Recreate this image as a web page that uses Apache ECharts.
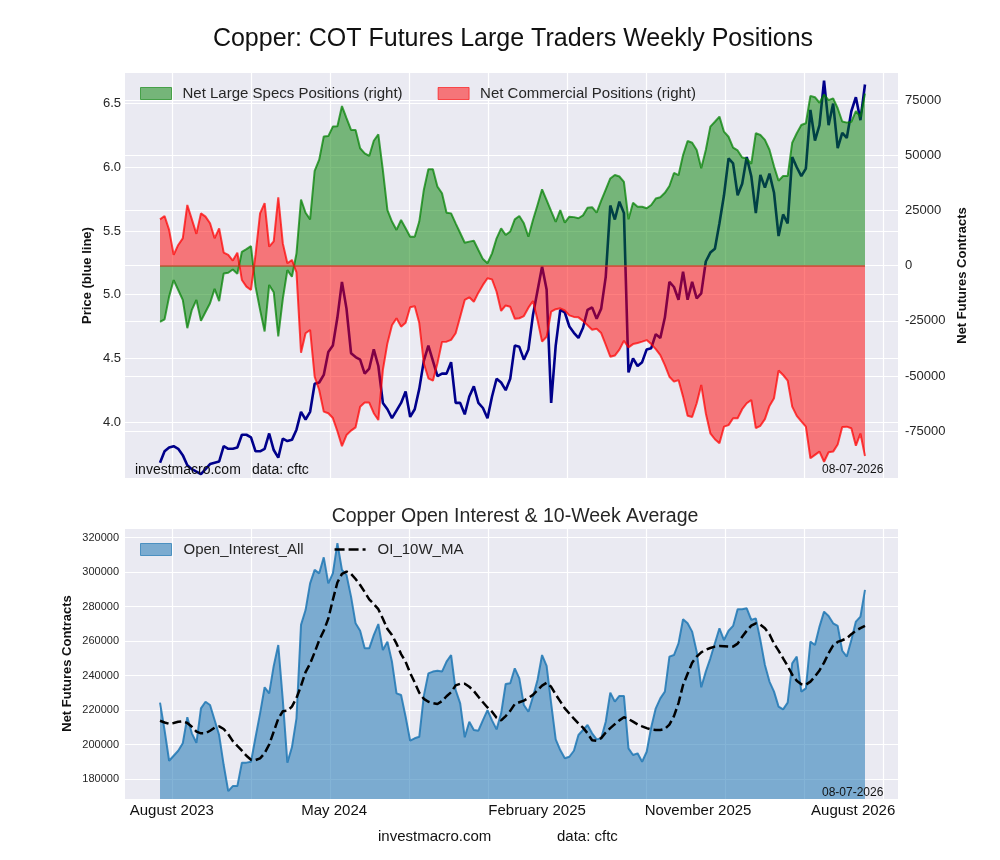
<html>

<head>
    <meta charset="utf-8">
    <script src="https://cdn.jsdelivr.net/npm/echarts@6/dist/echarts.min.js"></script>
    <style>
        html, body { margin: 0; padding: 0; background: #fff; }
        #main { width: 1000px; height: 860px; }
    </style>
</head>

<body>
    <div id="main"></div>

    <script>
        // weekly values (week 0 = first report)
        var price = [3.68, 3.77, 3.80, 3.81, 3.79, 3.74, 3.66, 3.63, 3.61, 3.59,
            3.63, 3.67, 3.68, 3.69, 3.81, 3.79, 3.79, 3.80, 3.90, 3.90,
            3.88, 3.77, 3.77, 3.79, 3.91, 3.78, 3.72, 3.87, 3.85, 3.86,
            3.94, 4.08, 4.02, 4.08, 4.30, 4.31, 4.37, 4.55, 4.60, 4.82,
            5.10, 4.89, 4.54, 4.51, 4.49, 4.38, 4.42, 4.57, 4.44, 4.15,
            4.10, 4.03, 4.09, 4.15, 4.24, 4.04, 4.10, 4.26, 4.48, 4.60,
            4.48, 4.36, 4.38, 4.38, 4.47, 4.15, 4.15, 4.06, 4.20, 4.28,
            4.15, 4.11, 4.03, 4.20, 4.34, 4.31, 4.25, 4.34, 4.60, 4.59,
            4.49, 4.57, 4.84, 5.03, 5.22, 5.04, 4.15, 4.60, 4.88, 4.86,
            4.75, 4.70, 4.66, 4.74, 4.88, 4.90, 4.81, 4.89, 5.14, 5.70,
            5.59, 5.73, 5.64, 4.39, 4.50, 4.44, 4.47, 4.57, 4.58, 4.69,
            4.66, 4.82, 5.10, 5.06, 4.96, 5.18, 4.96, 5.10, 4.97, 5.01,
            5.26, 5.33, 5.36, 5.56, 5.78, 6.07, 6.03, 5.78, 5.87, 6.08,
            5.93, 5.64, 5.94, 5.84, 5.95, 5.80, 5.46, 5.63, 5.56, 6.08,
            6.00, 5.93, 5.99, 6.45, 6.21, 6.33, 6.68, 6.33, 6.50, 6.15,
            6.27, 6.23, 6.44, 6.55, 6.37, 6.65];

        var specs = [-25400, -24300, -14000, -6500, -11000, -15500, -28300, -20000, -15500, -25000,
            -21000, -17000, -10500, -16000, -3500, -3200, -1700, -3700, 6300, 7500,
            8900, -9500, -20000, -29800, -8700, -12000, -32000, -15000, -2000, -5000,
            5500, 30000, 24000, 21000, 43000, 48000, 58500, 58700, 63000, 63200,
            72300, 66800, 61500, 61500, 53200, 50900, 49700, 56600, 59500, 43300,
            25200, 20000, 16200, 20700, 17000, 13100, 13100, 20000, 34300, 43700,
            43700, 35800, 32800, 24000, 23700, 19200, 14800, 10400, 10900, 11300,
            7100, 3000, 1100, 5600, 12400, 16900, 13900, 15500, 21000, 22500,
            19200, 13100, 20700, 27500, 34600, 29700, 24700, 19800, 25200, 19500,
            22200, 22000, 21500, 22800, 26200, 26500, 24000, 29500, 34500, 39500,
            41100, 40400, 38000, 21000, 28500, 26700, 26700, 26000, 27500, 30400,
            31000, 33000, 36100, 42000, 41000, 50100, 56500, 55700, 52400, 44100,
            52400, 63000, 65200, 67500, 60700, 58400, 53500, 52200, 49000, 48600,
            46100, 60000, 59200, 57000, 52500, 45000, 38500, 40600, 40600, 55700,
            60000, 63700, 64500, 76900, 76300, 73800, 77500, 75000, 75800, 71300,
            65300, 64800, 65200, 70000, 67500, 78000];

        var comm = [21000, 22500, 16200, 4900, 9400, 12400, 27500, 21000, 14400, 23700,
            22200, 19200, 12400, 16900, 5900, 4900, 2300, 5900, -6500, -9500,
            -11000, 5000, 23700, 28300, 8600, 11000, 31000, 10100, 1100, 2600,
            -3000, -39400, -30600, -29100, -50300, -56300, -66100, -66800, -69000, -75000,
            -81700, -76700, -74700, -73200, -63900, -62000, -62000, -66800, -69900, -47200,
            -35100, -27000, -23800, -27600, -25800, -18800, -18300, -26000, -44200, -51000,
            -52100, -44200, -34500, -34400, -33600, -30600, -23100, -15500, -14300, -16300,
            -12200, -8700, -5700, -6200, -11800, -20500, -18000, -18600, -24000, -23800,
            -22800, -19000, -16000, -24600, -34400, -32200, -20800, -19700, -19300, -20300,
            -22500, -23200, -23400, -25000, -27000, -29000, -28600, -30500, -35800, -41200,
            -40700, -38000, -34000, -37000, -35500, -35000, -34400, -33700, -35500, -37800,
            -40500, -45000, -50300, -52500, -51800, -59300, -68000, -68500, -62300, -54000,
            -66800, -75900, -78600, -80400, -72900, -72200, -69100, -69100, -65000, -62300,
            -60800, -73600, -72500, -69500, -63500, -60000, -47500, -49500, -52000, -63800,
            -68000, -70500, -72900, -87200, -85700, -84200, -88800, -84500, -84200, -81000,
            -73000, -72900, -73600, -81500, -76000, -86200];

        var openInterest = [224300, 208400, 190600, 193500, 196400, 200700, 215800, 206500, 201000, 221000,
            224800, 222900, 214200, 205500, 188100, 173000, 175900, 175900, 189500, 189500,
            190000, 204200, 218100, 233200, 229700, 245600, 257700, 225800, 189500, 198400,
            215200, 269400, 278000, 293500, 301300, 299300, 308600, 293500, 299300, 316800,
            301300, 298400, 285800, 270300, 266000, 255800, 255800, 263500, 269900, 254800,
            259700, 248000, 229700, 228700, 216100, 202200, 203600, 204500, 228200, 241300,
            242300, 242800, 242300, 248100, 251900, 231600, 223900, 204200, 213200, 208400,
            208000, 214200, 220000, 214000, 208800, 218100, 235100, 235500, 244200, 238400,
            222900, 219000, 227700, 237400, 251900, 245600, 223900, 203000, 196800, 192000,
            192900, 196400, 205500, 208400, 211300, 206500, 203000, 203600, 213200, 230100,
            224900, 228200, 228200, 197800, 193900, 194900, 190000, 195800, 210000, 221000,
            226800, 230700, 251000, 251900, 258700, 272700, 270300, 265500, 253900, 233200,
            242300, 250000, 258700, 267400, 260600, 266000, 268800, 278500, 278500, 279000,
            272300, 273200, 260600, 246100, 236500, 230700, 222000, 220400, 224300, 247100,
            251000, 230700, 232600, 259700, 257700, 268400, 277100, 274600, 270300, 268800,
            254400, 251000, 260600, 271300, 274200, 289700];

        var oiAvg10w = [213800, 212800, 212000, 212500, 213200, 213500, 212500, 210300, 207500, 206500,
            206500, 208000, 209800, 210500, 209000, 206000, 202000, 199200, 196500, 193500,
            191200, 191000, 192000, 195000, 200000, 207500, 215000, 219300, 219600, 222000,
            227000, 234000, 242000, 247000, 253500, 260500, 266000, 273000, 284000, 294000,
            299000, 300300, 299000, 296000, 292500, 288500, 284200, 281500, 278500, 273000,
            267000, 263500, 258500, 252500, 248000, 241500, 236000, 230000, 226500, 224800,
            224000, 223500, 225200, 228000, 230300, 234300, 235200, 235300, 233500, 231000,
            227700, 224500, 221500, 219000, 215500, 214000, 216500, 219500, 223500, 224500,
            225500, 227000, 228800, 231500, 234200, 235800, 233500, 229000, 225000, 221000,
            218000, 215000, 212200, 209800, 206500, 202500, 202200, 203700, 207000, 209500,
            211800, 214000, 215800, 214800, 213300, 211700, 210500, 209500, 208700, 208400,
            208400, 209000, 211500, 216500, 224000, 234500, 241000, 247500, 251000, 253500,
            255000, 256000, 256800, 257100, 257000, 256800, 256800, 258500, 262500, 266000,
            269000, 270300, 269500, 267400, 264000, 258500, 254500, 250000, 245500, 240500,
            237000, 235000, 234700, 236500, 239500, 243000, 247500, 253000, 257500, 259500,
            260500, 261600, 264000, 266000, 267500, 268800];

        var tickLabels = ['August 2023', 'May 2024', 'February 2025', 'November 2025', 'August 2026'];
        var tickWeeks = [2.6, 38.3, 82.9, 118.3, 152.4];
        var lastDate = '08-07-2026';

        var FONT = '"Liberation Sans", Arial, sans-serif';
        var BG = '#eaeaf2';
        var TXT = '#262626';
        // three black dashes, used as the legend mark of the moving average
        var DASH_ICON = 'path://M0,0L0.01,0L0,0.01Z M0,12L0.01,12L0,11.99Z ' +
            'M0,4.8L10,4.8L10,7.2L0,7.2Z M14,4.8L24,4.8L24,7.2L14,7.2Z M28,4.8L31,4.8L31,7.2L28,7.2Z';

        function weekly(arr) {
            return arr.map(function (v, i) { return [i, v]; });
        }
        function plain(v) { return String(v); }

        // week axis, a little wider than the data on both sides
        var weekMin = -7.7, weekMax = 162.26;
        function weekAxis(grid) {
            return { type: 'value', gridIndex: grid, min: weekMin, max: weekMax, show: false };
        }
        // vertical white lines of the darkgrid
        function vlineAxis(grid) {
            return {
                type: 'value', gridIndex: grid, min: 0, max: 9, interval: 1, z: 1,
                axisLine: { show: false }, axisTick: { show: false }, axisLabel: { show: false },
                splitLine: { show: true, lineStyle: { color: '#fff', width: 1.2 } }
            };
        }

        var chart = echarts.init(document.getElementById('main'));

        var option = {
            backgroundColor: '#fff',
            animation: false,
            textStyle: { fontFamily: FONT },
            title: [{
                text: 'Copper: COT Futures Large Traders Weekly Positions',
                left: 508, top: 22, textAlign: 'center',
                textStyle: { fontSize: 25, fontWeight: 'normal', color: '#111', fontFamily: FONT }
            }, {
                text: 'Copper Open Interest & 10-Week Average',
                left: 510, top: 502, textAlign: 'center',
                textStyle: { fontSize: 19.5, fontWeight: 'normal', color: TXT, fontFamily: FONT }
            }],
            legend: [{
                left: 135, top: 81, itemWidth: 31, itemHeight: 12, itemGap: 35,
                selectedMode: false,
                textStyle: { fontSize: 15, color: TXT, fontFamily: FONT, padding: [0, 0, 0, 6] },
                data: [
                    { name: 'Net Large Specs Positions (right)', icon: 'rect',
                      itemStyle: { color: 'rgba(0,128,0,0.5)', borderColor: 'rgba(0,128,0,0.6)', borderWidth: 1 } },
                    { name: 'Net Commercial Positions (right)', icon: 'rect',
                      itemStyle: { color: 'rgba(255,0,0,0.5)', borderColor: 'rgba(255,0,0,0.6)', borderWidth: 1 } }
                ]
            }, {
                left: 135, top: 537, itemWidth: 31, itemHeight: 12, itemGap: 31,
                selectedMode: false,
                textStyle: { fontSize: 15, color: TXT, fontFamily: FONT, padding: [0, 0, 0, 7] },
                data: [
                    { name: 'Open_Interest_All', icon: 'rect',
                      itemStyle: { color: 'rgba(31,119,180,0.55)', borderColor: 'rgba(31,119,180,0.7)', borderWidth: 1 } },
                    { name: 'OI_10W_MA', icon: DASH_ICON, itemStyle: { color: '#000', borderWidth: 0 } }
                ]
            }],
            grid: [
                { left: 125, top: 73, width: 773, height: 405, show: true, backgroundColor: BG, borderWidth: 0, z: 0 },
                { left: 172, top: 73, width: 711, height: 405, z: 0 },
                { left: 125, top: 39.9, width: 773, height: 445.8, z: 0 },
                { left: 125, top: 44.9, width: 773, height: 441.6, z: 0 },
                { left: 125, top: 528, width: 773, height: 271, show: true, backgroundColor: BG, borderWidth: 0, z: 0 },
                { left: 172, top: 528, width: 711, height: 271, z: 0 }
            ],
            xAxis: [
                weekAxis(0),
                vlineAxis(1),
                weekAxis(2),
                weekAxis(3),
                {
                    type: 'value', gridIndex: 4, min: weekMin, max: weekMax,
                    axisLine: { show: false }, axisTick: { show: false }, splitLine: { show: false },
                    axisLabel: {
                        show: true, customValues: tickWeeks, margin: 4,
                        fontSize: 15, color: '#111', fontFamily: FONT,
                        formatter: function (v) {
                            for (var k = 0; k < tickWeeks.length; k++) {
                                if (Math.abs(tickWeeks[k] - v) < 0.01) return tickLabels[k];
                            }
                            return '';
                        }
                    }
                },
                vlineAxis(5)
            ],
            yAxis: [
                {   // axis names for the top panel
                    type: 'value', gridIndex: 0, min: 0, max: 1, position: 'left',
                    name: 'Price (blue line)', nameLocation: 'middle', nameGap: 31, nameRotate: 90,
                    nameTextStyle: { fontSize: 13, fontWeight: 'bold', color: '#111', fontFamily: FONT },
                    axisLine: { show: false }, axisTick: { show: false }, axisLabel: { show: false }, splitLine: { show: false }
                },
                {
                    type: 'value', gridIndex: 0, min: 0, max: 1, position: 'right',
                    name: 'Net Futures Contracts', nameLocation: 'middle', nameGap: 58, nameRotate: 90,
                    nameTextStyle: { fontSize: 13, fontWeight: 'bold', color: '#111', fontFamily: FONT },
                    axisLine: { show: false }, axisTick: { show: false }, axisLabel: { show: false }, splitLine: { show: false }
                },
                { type: 'value', gridIndex: 1, show: false },
                {   // price
                    type: 'value', gridIndex: 2, min: 3.5, max: 7.0, interval: 0.5, position: 'left', z: 1,
                    axisLine: { show: false }, axisTick: { show: false },
                    axisLabel: { fontSize: 13, color: TXT, margin: 4, showMinLabel: false, showMaxLabel: false,
                        formatter: function (v) { return v.toFixed(1); } },
                    splitLine: { show: true, lineStyle: { color: '#fff', width: 1.2 } }
                },
                {   // net positions
                    type: 'value', gridIndex: 3, min: -100000, max: 100000, interval: 25000, position: 'right', z: 1,
                    axisLine: { show: false }, axisTick: { show: false },
                    axisLabel: { fontSize: 13, color: TXT, margin: 7, showMinLabel: false, showMaxLabel: false, formatter: plain },
                    splitLine: { show: true, lineStyle: { color: '#fff', width: 1.2 } }
                },
                {   // open interest
                    type: 'value', gridIndex: 4, min: 168400, max: 325600, splitNumber: 8, position: 'left', z: 1,
                    name: 'Net Futures Contracts', nameLocation: 'middle', nameGap: 51, nameRotate: 90,
                    nameMoveOverlap: false,
                    nameTextStyle: { fontSize: 13, fontWeight: 'bold', color: '#111', fontFamily: FONT },
                    axisLine: { show: false }, axisTick: { show: false },
                    axisLabel: { fontSize: 11, color: TXT, margin: 6, showMinLabel: false, showMaxLabel: false, formatter: plain },
                    splitLine: { show: true, lineStyle: { color: '#fff', width: 1.2 } }
                },
                { type: 'value', gridIndex: 5, show: false }
            ],
            series: [
                {
                    name: 'Price', type: 'line', xAxisIndex: 2, yAxisIndex: 3, z: 2,
                    data: weekly(price), symbol: 'none',
                    lineStyle: { color: '#00008b', width: 2.6 }
                },
                {
                    name: 'Net Large Specs Positions (right)', type: 'line', xAxisIndex: 3, yAxisIndex: 4, z: 3,
                    data: weekly(specs), symbol: 'none',
                    itemStyle: { color: 'rgba(0,128,0,0.5)' },
                    lineStyle: { color: 'rgba(0,128,0,0.72)', width: 2 },
                    areaStyle: { color: 'rgba(0,128,0,0.5)', opacity: 1, origin: 'auto' }
                },
                {
                    name: 'Net Commercial Positions (right)', type: 'line', xAxisIndex: 3, yAxisIndex: 4, z: 3,
                    data: weekly(comm), symbol: 'none',
                    itemStyle: { color: 'rgba(255,0,0,0.5)' },
                    lineStyle: { color: 'rgba(255,0,0,0.72)', width: 2 },
                    areaStyle: { color: 'rgba(255,0,0,0.5)', opacity: 1, origin: 'auto' },
                    markLine: {
                        silent: true, symbol: 'none', label: { show: false },
                        lineStyle: { color: 'rgba(190,60,30,0.8)', width: 1.5, type: 'solid' },
                        data: [[{ coord: [0, 0] }, { coord: [price.length - 1, 0] }]]
                    }
                },
                {
                    name: 'Open_Interest_All', type: 'line', xAxisIndex: 4, yAxisIndex: 5, z: 2,
                    data: weekly(openInterest), symbol: 'none',
                    itemStyle: { color: 'rgba(31,119,180,0.55)' },
                    lineStyle: { color: 'rgba(31,119,180,0.85)', width: 2 },
                    areaStyle: { color: 'rgba(31,119,180,0.55)', opacity: 1, origin: 'start' }
                },
                {
                    name: 'OI_10W_MA', type: 'line', xAxisIndex: 4, yAxisIndex: 5, z: 4,
                    data: weekly(oiAvg10w), symbol: 'none',
                    itemStyle: { color: '#000' },
                    lineStyle: { color: '#000', width: 2.5, type: [9, 4] }
                }
            ],
            graphic: [
                { type: 'text', x: 135, y: 470, z: 10,
                  style: { text: 'investmacro.com', fill: '#111', font: '14px ' + FONT, verticalAlign: 'middle' } },
                { type: 'text', x: 252, y: 470, z: 10,
                  style: { text: 'data: cftc', fill: '#111', font: '14px ' + FONT, verticalAlign: 'middle' } },
                { type: 'text', x: 822, y: 470, z: 10,
                  style: { text: lastDate, fill: '#111', font: '12px ' + FONT, verticalAlign: 'middle' } },
                { type: 'text', x: 822, y: 793, z: 10,
                  style: { text: lastDate, fill: '#111', font: '12px ' + FONT, verticalAlign: 'middle' } },
                { type: 'text', x: 378, y: 837, z: 10,
                  style: { text: 'investmacro.com', fill: '#111', font: '15px ' + FONT, verticalAlign: 'middle' } },
                { type: 'text', x: 557, y: 837, z: 10,
                  style: { text: 'data: cftc', fill: '#111', font: '15px ' + FONT, verticalAlign: 'middle' } }
            ]
        };

        chart.setOption(option);

        window.onresize = function () {
            chart.resize();
        }
    </script>
</body>

</html>
